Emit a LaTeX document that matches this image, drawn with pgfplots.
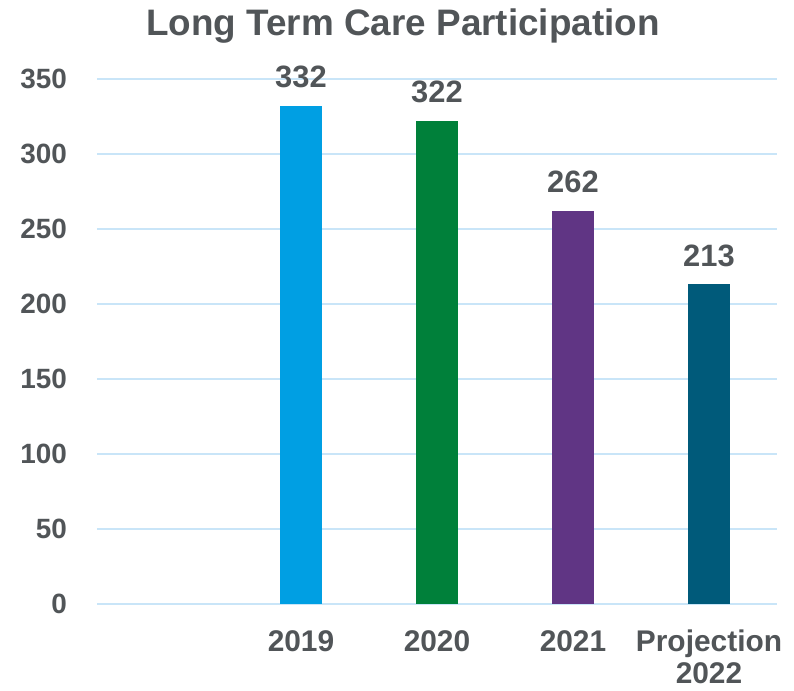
\documentclass[border=0pt]{standalone}
\usepackage{pgfplots}
\pgfplotsset{compat=1.18}
\usepackage{fontspec}
\setmainfont{Liberation Sans}
\definecolor{txt}{HTML}{515558}
\definecolor{gridc}{HTML}{C9E5F8}
\definecolor{cA}{HTML}{009FE3}
\definecolor{cB}{HTML}{00803A}
\definecolor{cC}{HTML}{603584}
\definecolor{cD}{HTML}{005A7A}
\begin{document}
\begin{tikzpicture}
\begin{axis}[
  at={(0,0)}, anchor=south west,
  scale only axis,
  width=680bp, height=525bp,
  xmin=-0.5, xmax=4.5,
  ymin=0, ymax=350,
  axis line style={draw=none},
  major tick length=0pt,
  xtick={0,1,2,3,4},
  xticklabels={{},2019,2020,2021,{Projection\\2022}},
  ytick={0,50,100,150,200,250,300,350},
  yticklabels={0,50,100,150,200,250,300,350},
  ymajorgrids,
  grid style={gridc, line width=1.6bp},
  xticklabel style={font=\fontsize{30}{32}\selectfont\bfseries, text=txt, align=center, anchor=north, inner sep=0pt, yshift=-26bp},
  yticklabel style={font=\fontsize{28}{30}\selectfont\bfseries, text=txt, anchor=east, inner sep=0pt, xshift=-30bp},
  ybar, bar width=42bp, bar shift=0pt,
  /pgf/number format/assume math mode=true,
  nodes near coords,
  every node near coord/.append style={font=\fontsize{31}{34}\selectfont\bfseries, text=txt, anchor=base, inner sep=0pt, yshift=18bp},
  clip=false,
]
\addplot[fill=cA, draw=none] coordinates {(1,332)};
\addplot[fill=cB, draw=none] coordinates {(2,322)};
\addplot[fill=cC, draw=none] coordinates {(3,262)};
\addplot[fill=cD, draw=none] coordinates {(4,213)};
\end{axis}
\node[anchor=base, text=txt, font=\fontsize{37}{40}\selectfont\bfseries, inner sep=0pt] at (306bp,568bp) {Long Term Care Participation};
\pgfresetboundingbox
\path (-97bp,-87bp) rectangle (697bp,604bp);
\end{tikzpicture}
\end{document}
